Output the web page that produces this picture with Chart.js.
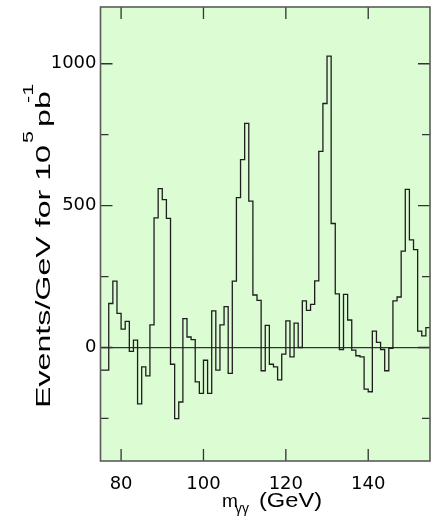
<!DOCTYPE html>
<html>
<head>
<meta charset="utf-8">
<script src="https://cdn.jsdelivr.net/npm/chart.js@4.4.1/dist/chart.umd.min.js"></script>
<style>
  html, body { margin: 0; padding: 0; background: #fff; }
</style>
</head>
<body>
<canvas id="chart" width="441" height="518"></canvas>
<script>
// 1 GeV bins, lower edge of each bin
const binStart = [
  75, 76, 77, 78, 79, 80, 81, 82, 83, 84, 85, 86, 87, 88, 89, 90, 91, 92, 93, 94,
  95, 96, 97, 98, 99, 100, 101, 102, 103, 104, 105, 106, 107, 108, 109, 110, 111, 112, 113, 114,
  115, 116, 117, 118, 119, 120, 121, 122, 123, 124, 125, 126, 127, 128, 129, 130, 131, 132, 133, 134,
  135, 136, 137, 138, 139, 140, 141, 142, 143, 144, 145, 146, 147, 148, 149, 150, 151, 152, 153, 154
];
const eventsPerGeV = [
  -80, -80, 155, 234, 120, 65, 92, -14, 26, -199, -68, -100, 80, 457, 560, 521, 455, -59, -251, -192,
  102, 37, 28, -121, -162, -45, -162, 129, -80, 80, 144, -91, 234, 528, 662, 790, 516, 185, 166, -82,
  78, -59, -68, -114, -23, 94, -33, 86, 0, 164, 131, 152, 235, 691, 860, 1027, 437, 189, -7, 187,
  97, -9, -29, -33, -147, -156, 58, 18, -7, -82, -3, 164, 178, 340, 557, 379, 345, 58, 41, 70
];
const binWidth = 1;

const xTickValues = [80, 100, 120, 140];
const yTickValues = [0, 500, 1000];
const yMinorTicks = [-250, 250, 750];

const xMin = 75, xMax = 155;
const yMin = -400, yMax = 1200;

const plotGreen = '#dcfcd4';
const tickFont = { family: 'DejaVu Sans', size: 18 };

// step points: value holds from the bin's lower edge to the next edge
const histPoints = binStart.map((x, i) => ({ x: x, y: eventsPerGeV[i] }));
histPoints.push({ x: binStart[binStart.length - 1] + binWidth, y: eventsPerGeV[eventsPerGeV.length - 1] });

const backgroundPlugin = {
  id: 'plotBackground',
  beforeDraw(chart) {
    const a = chart.chartArea;
    const ctx = chart.ctx;
    ctx.save();
    ctx.fillStyle = plotGreen;
    ctx.fillRect(a.left, a.top, a.right - a.left, a.bottom - a.top);
    ctx.restore();
  }
};

const framePlugin = {
  id: 'frameTicks',
  afterDraw(chart) {
    const a = chart.chartArea;
    const ctx = chart.ctx;
    const xs = chart.scales.x, ys = chart.scales.y;
    ctx.save();
    ctx.strokeStyle = '#333';
    ctx.lineWidth = 1.3;
    ctx.beginPath();
    xTickValues.forEach(v => {
      const px = xs.getPixelForValue(v);
      ctx.moveTo(px, a.bottom); ctx.lineTo(px, a.bottom - 12);
      ctx.moveTo(px, a.top); ctx.lineTo(px, a.top + 12);
    });
    yTickValues.forEach(v => {
      const py = ys.getPixelForValue(v);
      ctx.moveTo(a.left, py); ctx.lineTo(a.left + 12, py);
      ctx.moveTo(a.right, py); ctx.lineTo(a.right - 12, py);
    });
    yMinorTicks.forEach(v => {
      const py = ys.getPixelForValue(v);
      ctx.moveTo(a.left, py); ctx.lineTo(a.left + 8, py);
      ctx.moveTo(a.right, py); ctx.lineTo(a.right - 8, py);
    });
    ctx.stroke();

    ctx.strokeStyle = '#5a5a5a';
    ctx.lineWidth = 1.6;
    ctx.strokeRect(a.left, a.top, a.right - a.left, a.bottom - a.top);
    ctx.restore();
  }
};

const axisTitlePlugin = {
  id: 'axisTitles',
  afterDraw(chart) {
    const ctx = chart.ctx;
    ctx.save();
    ctx.fillStyle = '#000';
    ctx.textBaseline = 'alphabetic';
    ctx.textAlign = 'left';

    // x title: m_γγ (GeV)
    ctx.font = '19px "Liberation Sans"';
    ctx.fillText('m', 222, 507);
    ctx.font = '14px "Liberation Sans"';
    ctx.fillText('γγ', 235, 513);
    ctx.font = '19.5px "Liberation Sans"';
    const gev = '(GeV)';
    const gevScale = 63 / ctx.measureText(gev).width;
    ctx.save();
    ctx.translate(259, 507);
    ctx.scale(gevScale, 1);
    ctx.fillText(gev, 0, 0);
    ctx.restore();

    // y title: Events/GeV for 10^5 pb^-1, reading upward
    ctx.translate(50, 408);
    ctx.rotate(-Math.PI / 2);
    ctx.font = '21px "Liberation Sans"';
    const main = 'Events/GeV for 10';
    const sx = 263 / ctx.measureText(main).width;
    ctx.save();
    ctx.scale(sx, 1);
    ctx.fillText(main, 0, 0);
    ctx.fillText('pb', 281 / sx, 0);
    ctx.font = '14px "Liberation Sans"';
    ctx.fillText('5', 265 / sx, -17);
    ctx.fillText('-1', 305 / sx, -17);
    ctx.restore();
    ctx.restore();
  }
};

new Chart(document.getElementById('chart'), {
  type: 'line',
  data: {
    datasets: [{
      data: histPoints,
      stepped: 'before',
      borderColor: '#1e1e1e',
      borderWidth: 1.3,
      pointRadius: 0,
      fill: false,
      tension: 0
    }]
  },
  options: {
    responsive: false,
    devicePixelRatio: 1,
    animation: false,
    layout: { padding: { top: 7, right: 11, left: 0, bottom: 0 } },
    plugins: { legend: { display: false }, tooltip: { enabled: false } },
    scales: {
      x: {
        type: 'linear',
        min: xMin,
        max: xMax,
        afterBuildTicks: s => { s.ticks = xTickValues.map(v => ({ value: v })); },
        afterFit: s => { s.height = 57; s.paddingLeft = 0; s.paddingRight = 0; },
        grid: { display: false },
        border: { display: false },
        ticks: { font: tickFont, color: '#000', padding: 5, maxRotation: 0, autoSkip: false, callback: v => String(v) }
      },
      y: {
        type: 'linear',
        min: yMin,
        max: yMax,
        afterBuildTicks: s => { s.ticks = yTickValues.map(v => ({ value: v })); },
        afterFit: s => { s.width = 100.5; s.paddingTop = 0; s.paddingBottom = 0; },
        grid: {
          drawTicks: false,
          lineWidth: 1.3,
          color: c => (c.tick && c.tick.value === 0 ? '#333' : 'rgba(0,0,0,0)')
        },
        border: { display: false },
        ticks: { font: tickFont, color: '#000', padding: 4, callback: v => String(v) }
      }
    }
  },
  plugins: [backgroundPlugin, framePlugin, axisTitlePlugin]
});
</script>
</body>
</html>
